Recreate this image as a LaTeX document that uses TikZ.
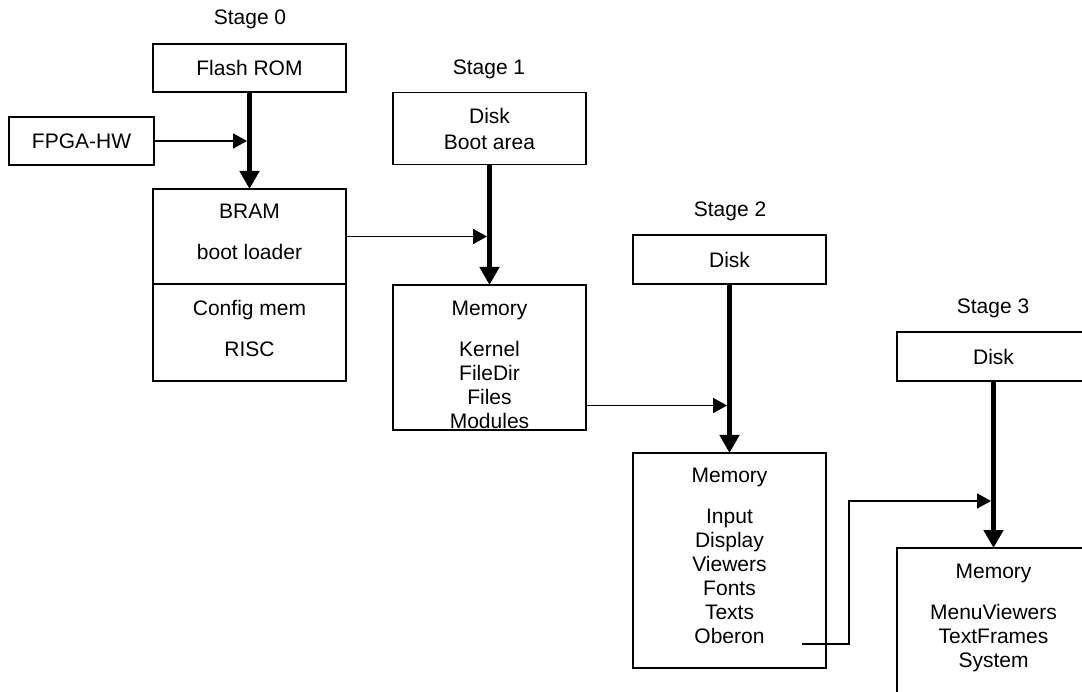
\documentclass[tikz,border=0pt]{standalone}
\usepackage{fontspec}
\setmainfont{Liberation Sans}
\usetikzlibrary{arrows.meta,calc}
\begin{document}
\begin{tikzpicture}[x=1pt,y=-1pt,
  box/.style={draw,line width=1.8pt,rectangle,inner sep=0pt,outer sep=0pt,minimum width=193pt,align=center,font=\fontsize{21}{24}\selectfont},
  txt/.style={inner sep=0pt,outer sep=0pt,align=center,font=\fontsize{21}{24}\selectfont},
  thinarrow/.style={line width=1.8pt,-{Triangle[length=14pt,width=15pt]}},
  thickarrow/.style={line width=5pt,-{Triangle[length=18pt,width=19pt]}},
  wire/.style={line width=1.8pt}
]
\useasboundingbox (0,0) rectangle (1082,692);
\clip (0,0) rectangle (1082,692);
% stage labels
\node[txt] (s0) at (250,19) {Stage 0};
\node[txt] (s1) at (489,69) {Stage 1};
\node[txt] (s2) at (730,211) {Stage 2};
\node[txt] (s3) at (993,308) {Stage 3};
% stage 0
\node[box,minimum height=48pt] (flash) at (249.5,68) {Flash ROM};
\node[box,minimum width=145pt,minimum height=48pt] (fpga) at (81.5,141) {FPGA-HW};
\node[box,minimum height=95pt] (bram) at (249.5,236.5) {};
\node[txt,anchor=north] (bramt) at ([yshift=-15.5pt]bram.north) {BRAM\\[17pt]boot loader};
\node[box,minimum height=97pt] (conf) at (249.5,332.5) {};
\node[txt,anchor=north] (conft) at ([yshift=-16.5pt]conf.north) {Config mem\\[17pt]RISC};
% stage 1
\node[box,minimum height=72pt] (disk1) at (489.5,128.5) {Disk\\[2pt]Boot area};
\node[box,minimum height=145pt] (mem1) at (489.5,357.5) {};
\node[txt,anchor=north] (mem1t) at ([yshift=-16pt]mem1.north) {Memory\\[17pt]Kernel\\FileDir\\Files\\Modules};
% stage 2
\node[box,minimum height=49pt] (disk2) at (729.5,259.5) {Disk};
\node[box,minimum height=215pt] (mem2) at (729.5,560.5) {};
\node[txt,anchor=north] (mem2t) at ([yshift=-15.5pt]mem2.north) {Memory\\[17pt]Input\\Display\\Viewers\\Fonts\\Texts\\Oberon};
% stage 3
\node[box,minimum height=49pt] (disk3) at (993.5,356.5) {Disk};
\node[box,minimum height=215pt] (mem3) at (993.5,655.5) {};
\node[txt,anchor=north] (mem3t) at ([yshift=-16.5pt]mem3.north) {Memory\\[17pt]MenuViewers\\TextFrames\\System};
% connectors
\draw[thickarrow] (flash.south) -- (bram.north);
\draw[thinarrow,shorten >=2.5pt] (fpga.east) -- (fpga.east -| flash.south);
\draw[thickarrow] (disk1.south) -- (mem1.north);
\draw[thinarrow,shorten >=2.5pt] (bram.east) -- (bram.east -| disk1.south);
\draw[thickarrow] (disk2.south) -- (mem2.north);
\coordinate (m1out) at ([yshift=-48pt]mem1.east);
\draw[thinarrow,shorten >=2.5pt] (m1out) -- (m1out -| disk2.south);
\draw[thickarrow] (disk3.south) -- (mem3.north);
\coordinate (obout) at (802,644);
\coordinate (bend) at (849,644);
\coordinate (m3in) at (993,501);
\draw[thinarrow,shorten >=2.5pt] (obout) -- (bend) -- (bend |- m3in) -- (m3in -| disk3.south);
\end{tikzpicture}
\end{document}
